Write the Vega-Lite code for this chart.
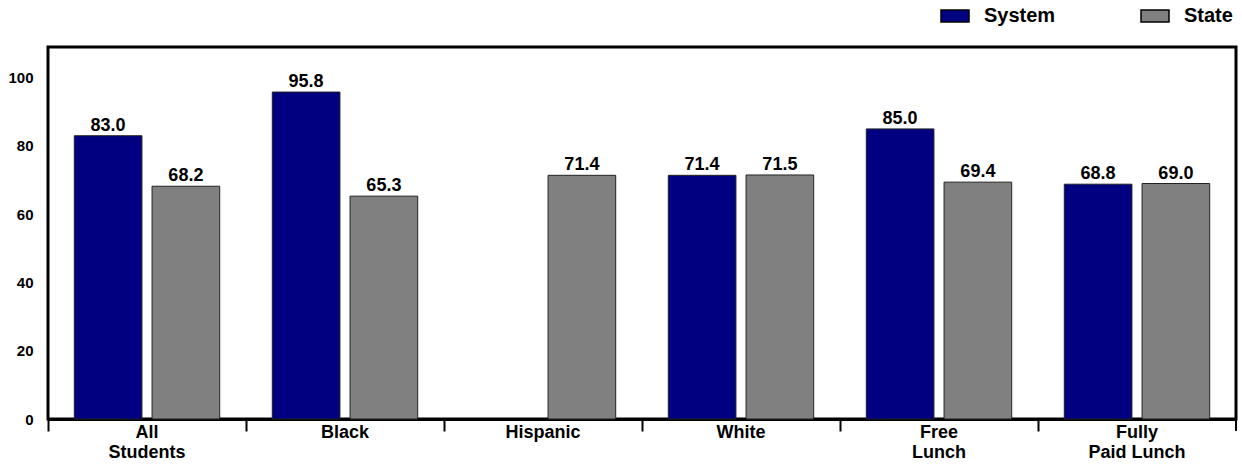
{
  "$schema": "https://vega.github.io/schema/vega-lite/v6.json",
  "width": 1188,
  "height": 372,
  "autosize": {"type": "none"},
  "padding": {"left": 48, "top": 47, "right": 6, "bottom": 54},
  "background": "white",
  "config": {
    "font": "Liberation Sans",
    "view": {"stroke": "black", "strokeWidth": 3}
  },
  "data": {
    "values": [
      {"group": "All|Students", "series": "System", "value": 83.0},
      {"group": "All|Students", "series": "State", "value": 68.2},
      {"group": "Black", "series": "System", "value": 95.8},
      {"group": "Black", "series": "State", "value": 65.3},
      {"group": "Hispanic", "series": "State", "value": 71.4},
      {"group": "White", "series": "System", "value": 71.4},
      {"group": "White", "series": "State", "value": 71.5},
      {"group": "Free|Lunch", "series": "System", "value": 85.0},
      {"group": "Free|Lunch", "series": "State", "value": 69.4},
      {"group": "Fully|Paid Lunch", "series": "System", "value": 68.8},
      {"group": "Fully|Paid Lunch", "series": "State", "value": 69.0}
    ]
  },
  "layer": [
    {
      "mark": {"type": "bar", "stroke": "#222222", "strokeWidth": 1},
      "encoding": {
        "x": {
          "field": "group",
          "type": "nominal",
          "sort": null,
          "scale": {"paddingInner": 0, "paddingOuter": 0},
          "axis": {
            "title": null,
            "labelAngle": 0,
            "labelExpr": "split(datum.value, '|')",
            "labelFont": "Liberation Sans",
            "labelFontWeight": "bold",
            "labelFontSize": 18,
            "labelColor": "black",
            "labelPadding": -8,
            "labelLineHeight": 20,
            "bandPosition": 0,
            "ticks": true,
            "tickSize": 12,
            "tickWidth": 2,
            "tickColor": "black",
            "domainColor": "black",
            "domainWidth": 3
          }
        },
        "xOffset": {
          "field": "series",
          "type": "nominal",
          "sort": ["System", "State"],
          "scale": {"paddingInner": 0.13, "paddingOuter": 0.338}
        },
        "y": {
          "field": "value",
          "type": "quantitative",
          "scale": {"domain": [0, 109], "nice": false},
          "axis": {
            "title": null,
            "values": [0, 20, 40, 60, 80, 100],
            "grid": false,
            "ticks": false,
            "domain": false,
            "labelFont": "Liberation Sans",
            "labelFontWeight": "bold",
            "labelFontSize": 15,
            "labelColor": "black",
            "labelPadding": 15
          }
        },
        "color": {
          "field": "series",
          "type": "nominal",
          "sort": ["System", "State"],
          "scale": {"domain": ["System", "State"], "range": ["#000080", "#808080"]},
          "legend": {
            "title": null,
            "orient": "none",
            "direction": "horizontal",
            "legendX": 892,
            "legendY": -46,
            "symbolType": "M-1,-0.43H1V0.43H-1Z",
            "symbolSize": 784,
            "symbolStrokeColor": "black",
            "symbolStrokeWidth": 1.5,
            "labelFont": "Liberation Sans",
            "labelFontWeight": "bold",
            "labelFontSize": 20,
            "labelColor": "black",
            "labelOffset": 14,
            "columnPadding": 82
          }
        }
      }
    },
    {
      "mark": {"type": "text", "dy": -5, "baseline": "alphabetic", "font": "Liberation Sans", "fontWeight": "bold", "fontSize": 18, "color": "black"},
      "encoding": {
        "x": {"field": "group", "type": "nominal", "sort": null},
        "xOffset": {"field": "series", "type": "nominal", "sort": ["System", "State"]},
        "y": {"field": "value", "type": "quantitative"},
        "text": {"field": "value", "type": "quantitative", "format": ".1f"}
      }
    },
    {
      "mark": {"type": "rule", "color": "black", "strokeWidth": 2},
      "encoding": {
        "x": {"datum": "Fully|Paid Lunch", "type": "nominal", "bandPosition": 1},
        "y": {"datum": 0, "type": "quantitative"},
        "y2": {"datum": -3.5}
      }
    }
  ]
}
